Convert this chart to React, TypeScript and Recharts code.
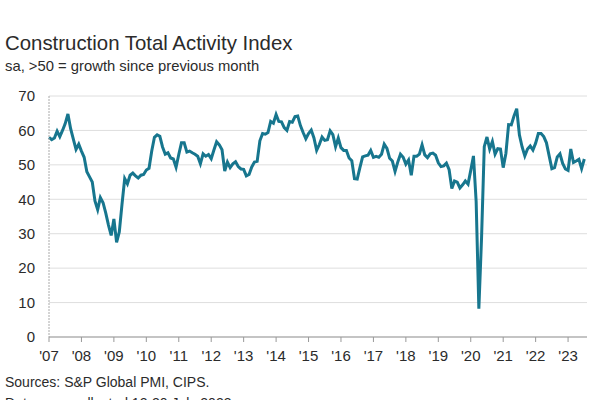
import { LineChart, Line, XAxis, YAxis, CartesianGrid } from "recharts";

const TEAL = "#17768e";
const INK = "#2b2b2b";
const FONT = "'Liberation Sans', Arial, sans-serif";

// ── data: monthly index, Jan 2007 – Jul 2023 ────────────────────────────────
const YEAR_LABELS = ["'07", "'08", "'09", "'10", "'11", "'12", "'13", "'14", "'15", "'16", "'17", "'18", "'19", "'20", "'21", "'22", "'23"];
const Y_TICKS = [0, 10, 20, 30, 40, 50, 60, 70];

const v2007 = [58, 57.3, 57.8, 59.8, 58.2, 60, 62, 64.8, 60.5, 57.5, 54.5, 56];
const v2008 = [54, 52.2, 48, 46.5, 45, 39.5, 37, 40.5, 39, 36, 32.5, 29.5];
const v2009 = [34.3, 27.5, 30.5, 38.5, 46, 44.5, 47, 47.6, 46.8, 46.2, 47, 47.2];
const v2010 = [48.5, 49, 54, 58, 58.7, 58.3, 55.2, 53.1, 53.5, 52, 51.7, 49.3];
const v2011 = [53, 56.4, 56.4, 53.7, 54, 53.5, 53.1, 52.5, 50.3, 53.2, 52.5, 53];
const v2012 = [51.8, 54.3, 56.7, 55.8, 54.4, 48.2, 50.8, 49.2, 50.3, 50.9, 49.5, 48.8];
const v2013 = [48.7, 46.8, 47.2, 49.4, 50.8, 51, 57, 59.1, 58.9, 59.4, 62.6, 62.1];
const v2014 = [64.6, 62.6, 62.5, 60.8, 60, 62.6, 62.4, 64, 64.2, 61.4, 59.4, 57.6];
const v2015 = [59.1, 60.1, 57.8, 54.2, 55.9, 58.1, 57.1, 57.3, 59.9, 58.8, 55.3, 57.8];
const v2016 = [55, 54.2, 54.2, 52, 51.2, 46, 45.9, 49.2, 52.3, 52.6, 52.8, 54.2];
const v2017 = [52.2, 52.5, 52.2, 53.1, 56, 54.8, 51.9, 51.1, 48.1, 50.8, 53.1, 52.2];
const v2018 = [50.2, 51.4, 47, 52.5, 52.5, 53.1, 55.8, 52.9, 52.1, 53.2, 53.4, 52.8];
const v2019 = [50.6, 49.5, 49.7, 50.5, 48.6, 43.1, 45.3, 45, 43.3, 44.2, 45.3, 44.4];
const v2020 = [48.4, 52.6, 39.3, 8.2, 28.9, 55.3, 58.1, 54.6, 56.8, 53.1, 54.7, 54.6];
const v2021 = [49.2, 53.3, 61.7, 61.6, 64.2, 66.3, 58.7, 55.2, 52.6, 54.6, 55.5, 54.3];
const v2022 = [56.3, 59.1, 59.1, 58.2, 56.4, 52.6, 48.9, 49.2, 52.3, 53.2, 50.4, 48.8];
const v2023 = [48.4, 54.6, 50.7, 51.1, 51.6, 48.9, 51.7];

const SERIES = [v2007, v2008, v2009, v2010, v2011, v2012, v2013, v2014, v2015, v2016, v2017, v2018, v2019, v2020, v2021, v2022, v2023];

const data = SERIES.flat().map((v, i) => ({ m: i, v }));
const yearTicks = YEAR_LABELS.map((_, i) => i * 12);

export default function App() {
  return (
    <div style={{ position: "absolute", left: 0, top: 0, width: 600, height: 400, background: "#fff", overflow: "hidden", fontFamily: FONT, color: INK }}>
      <div style={{ position: "absolute", left: 0, top: 0 }}>
        <LineChart width={600} height={400} data={data} margin={{ top: 96, right: 13, bottom: 33, left: 0 }}>
          <CartesianGrid vertical={false} stroke="#dedede" />
          <XAxis
            dataKey="m"
            type="number"
            domain={[0, 199]}
            ticks={yearTicks}
            tickFormatter={(m: number) => YEAR_LABELS[m / 12]}
            height={30}
            tickSize={5}
            tickMargin={8}
            stroke="#999"
            tick={{ fontSize: 15, fill: INK, fontFamily: FONT }}
          />
          <YAxis
            domain={[0, 70]}
            ticks={Y_TICKS}
            width={49}
            tickLine={false}
            tickSize={0}
            tickMargin={14}
            stroke="#aaa"
            strokeDasharray="2 1"
            tick={{ fontSize: 15, fill: INK, fontFamily: FONT }}
          />
          <Line type="linear" dataKey="v" stroke={TEAL} strokeWidth={3} dot={false} isAnimationActive={false} />
        </LineChart>
      </div>
      <div style={{ position: "absolute", left: 5, top: 32, fontSize: 20.4, lineHeight: "22px", whiteSpace: "nowrap" }}>
        Construction Total Activity Index
      </div>
      <div style={{ position: "absolute", left: 5, top: 58, fontSize: 14.8, lineHeight: "17px", whiteSpace: "nowrap" }}>
        sa, &gt;50 = growth since previous month
      </div>
      <div style={{ position: "absolute", left: 5, top: 374, fontSize: 14, lineHeight: "17px", whiteSpace: "nowrap" }}>
        Sources: S&amp;P Global PMI, CIPS.
      </div>
      <div style={{ position: "absolute", left: 5, top: 395, fontSize: 14, lineHeight: "17px", whiteSpace: "nowrap" }}>
        Data were collected 12-20 July 2023
      </div>
    </div>
  );
}
